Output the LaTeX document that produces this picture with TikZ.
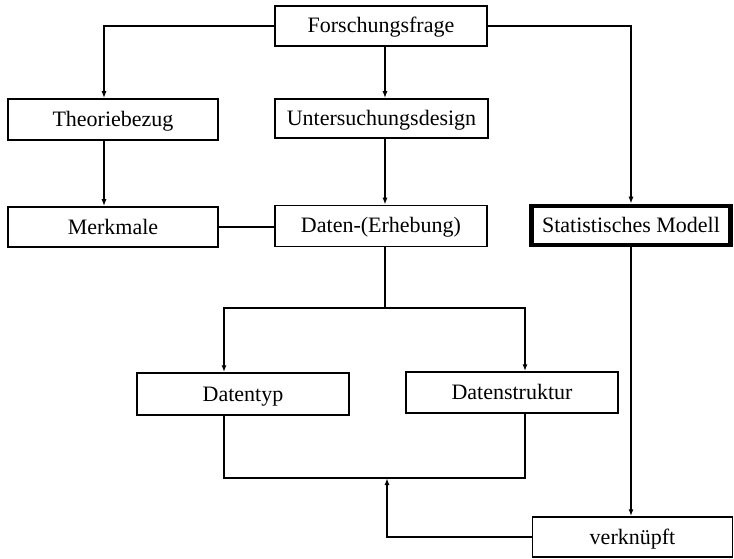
\documentclass[tikz,border=0pt]{standalone}
\usepackage{fontspec}
\setmainfont{Liberation Serif}
\usetikzlibrary{arrows.meta}
\begin{document}
\begin{tikzpicture}[x=1pt,y=-1pt,
  box/.style={draw,line width=1.5pt,inner sep=0pt,text height=14pt,text depth=0pt,font=\fontsize{22}{26}\selectfont},
  thickbox/.style={box,line width=4.5pt},
  conn/.style={line width=1.5pt},
  arr/.style={conn,-{Latex[length=7pt,width=5pt]}}]
\useasboundingbox (0,0) rectangle (734,559);
\node[box,minimum width=212pt,minimum height=40pt] (ff) at (381,26) {Forschungsfrage};
\node[box,minimum width=210pt,minimum height=41pt] (tb) at (113,119.5) {Theoriebezug};
\node[box,minimum width=213pt,minimum height=39pt] (ud) at (381.5,118.5) {Untersuchungsdesign};
\node[box,minimum width=210pt,minimum height=40pt] (mm) at (113,227) {Merkmale};
\node[box,minimum width=212pt,minimum height=41pt] (de) at (381,226) {Daten-(Erhebung)};
\node[thickbox,minimum width=199pt,minimum height=39pt] (sm) at (631,225.5) {Statistisches Modell};
\node[box,minimum width=212pt,minimum height=42pt] (dt) at (243,394) {Datentyp};
\node[box,minimum width=212pt,minimum height=41pt] (ds) at (512,392.5) {Datenstruktur};
\node[box,minimum width=200pt,minimum height=40pt] (vk) at (632.5,537) {verknüpft};
\coordinate (c1) at (104,0);
\coordinate (c2) at (385,0);
\coordinate (xl) at (224,0);
\coordinate (xr) at (525,0);
\coordinate (j) at (385,308);
\coordinate (b) at (387,478);
\draw[arr] (ff.west) -| (c1 |- tb.north);
\draw[arr] (c1 |- tb.south) -- (c1 |- mm.north);
\draw[arr] (c2 |- ff.south) -- (c2 |- ud.north);
\draw[arr] (c2 |- ud.south) -- (c2 |- de.north);
\draw[conn] (mm.east) -- (mm.east -| de.west);
\draw[arr] (ff.east) -| (sm.north);
\draw[arr] (sm.south) -- (sm.south |- vk.north);
\draw[conn] (c2 |- de.south) -- (j);
\draw[arr] (j) -| (xl |- dt.north);
\draw[arr] (j) -| (xr |- ds.north);
\draw[conn] (xl |- dt.south) |- (b) -| (xr |- ds.south);
\draw[arr] (vk.west) -| (b);
\end{tikzpicture}
\end{document}
